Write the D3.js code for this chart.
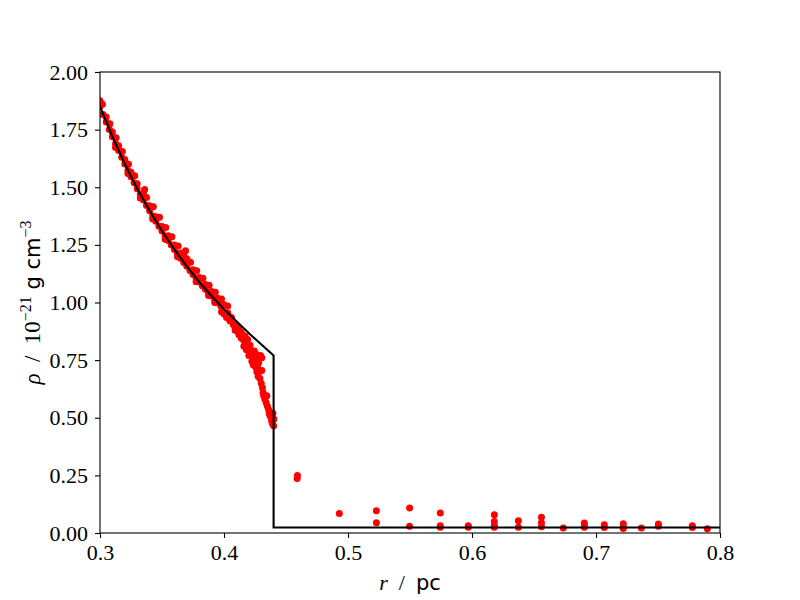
<!DOCTYPE html>
<html>
<head>
<meta charset="utf-8">
<script src="https://cdn.jsdelivr.net/npm/d3@7"></script>
<style>
  body { margin: 0; background: #fff; }
  svg text { fill: #000; }
</style>
</head>
<body>
<div id="chart"></div>
<script>
// analytic profile (black line)
var lineR = [0.300, 0.310, 0.320, 0.330, 0.340, 0.350, 0.360, 0.370, 0.380, 0.390,
             0.400, 0.410, 0.421, 0.440, 0.440, 0.800];
var lineRho = [1.850, 1.719, 1.601, 1.494, 1.398, 1.310, 1.230, 1.157, 1.089, 1.028,
               0.971, 0.919, 0.862, 0.770, 0.024, 0.024];

// simulation particles (red dots)
var simR = [
  // band on the curve
  0.3000, 0.3025, 0.3050, 0.3075, 0.3100, 0.3125, 0.3150, 0.3175, 0.3200, 0.3225,
  0.3250, 0.3275, 0.3300, 0.3325, 0.3350, 0.3375, 0.3400, 0.3425, 0.3450, 0.3475,
  0.3500, 0.3525, 0.3550, 0.3575, 0.3600, 0.3625, 0.3650, 0.3675, 0.3700, 0.3725,
  0.3750, 0.3775, 0.3800, 0.3825, 0.3850, 0.3875, 0.3900, 0.3925, 0.3950, 0.3975,
  // upper edge of the band
  0.3000, 0.3050, 0.3100, 0.3150, 0.3200, 0.3250, 0.3300, 0.3350, 0.3375, 0.3400,
  0.3450, 0.3500, 0.3550, 0.3600, 0.3650, 0.3675, 0.3700, 0.3750, 0.3800, 0.3850,
  0.3900, 0.3950, 0.4000,
  0.3020, 0.3080, 0.3130, 0.3180, 0.3230, 0.3280, 0.3360, 0.3430, 0.3480, 0.3530,
  0.3580, 0.3630, 0.3690, 0.3730, 0.3780, 0.3830, 0.3880, 0.3930, 0.3980, 0.4030,
  // lower edge of the band
  0.3125, 0.3325, 0.3525, 0.3775, 0.3875, 0.3225, 0.3425, 0.3625, 0.3925,
  // spread near the shock
  0.398, 0.400, 0.402, 0.403, 0.405, 0.406, 0.408, 0.409, 0.410, 0.411,
  0.412, 0.413, 0.414, 0.415, 0.416, 0.417, 0.418, 0.419, 0.420, 0.421,
  0.422, 0.423, 0.424, 0.4245, 0.425, 0.426, 0.427, 0.428, 0.4255, 0.4265,
  0.428, 0.429, 0.4275, 0.430, 0.4305, 0.431, 0.4315, 0.432, 0.433, 0.434,
  0.4345, 0.435, 0.436, 0.4365, 0.437, 0.438, 0.4385, 0.439, 0.4395, 0.440,
  0.4402,
  0.409, 0.412, 0.414, 0.416, 0.418, 0.420, 0.4225, 0.4235, 0.426, 0.427,
  0.4295, 0.4305, 0.4045, 0.4075,
  // outer region
  0.4590, 0.4592, 0.4930, 0.5229, 0.5229, 0.5497, 0.5497, 0.5744, 0.5744, 0.5744,
  0.5970, 0.5970, 0.6180, 0.6180, 0.6180, 0.6180, 0.6374, 0.6374, 0.6560, 0.6560,
  0.6560, 0.6736, 0.6906, 0.6906, 0.6906, 0.7067, 0.7067, 0.7220, 0.7220, 0.7220,
  0.7366, 0.7503, 0.7503, 0.7777, 0.7777, 0.7898
];
var simRho = [
  1.850, 1.816, 1.783, 1.751, 1.719, 1.689, 1.659, 1.630, 1.601, 1.573,
  1.546, 1.520, 1.494, 1.469, 1.445, 1.421, 1.398, 1.375, 1.353, 1.331,
  1.310, 1.289, 1.269, 1.249, 1.230, 1.211, 1.192, 1.174, 1.157, 1.139,
  1.122, 1.105, 1.089, 1.073, 1.058, 1.043, 1.028, 1.013, 0.999, 0.985,
  1.875, 1.805, 1.740, 1.680, 1.620, 1.565, 1.515, 1.475, 1.455, 1.420,
  1.372, 1.330, 1.290, 1.250, 1.215, 1.210, 1.190, 1.142, 1.108, 1.078,
  1.048, 1.018, 0.990,
  1.860, 1.775, 1.715, 1.655, 1.600, 1.550, 1.490, 1.415, 1.370, 1.325,
  1.285, 1.245, 1.225, 1.175, 1.138, 1.105, 1.075, 1.045, 1.015, 0.985,
  1.672, 1.453, 1.274, 1.090, 1.030, 1.560, 1.362, 1.198, 1.000,
  0.960, 0.950, 0.935, 0.955, 0.920, 0.935, 0.905, 0.890, 0.900, 0.875,
  0.885, 0.860, 0.870, 0.850, 0.835, 0.855, 0.820, 0.840, 0.800, 0.815,
  0.790, 0.775, 0.760, 0.790, 0.745, 0.775, 0.765, 0.740, 0.720, 0.700,
  0.700, 0.670, 0.680, 0.650, 0.705, 0.630, 0.610, 0.595, 0.580, 0.565,
  0.595, 0.550, 0.535, 0.520, 0.510, 0.500, 0.485, 0.475, 0.520, 0.465,
  0.495,
  0.880, 0.860, 0.845, 0.810, 0.795, 0.770, 0.745, 0.730, 0.735, 0.720,
  0.770, 0.760, 0.925, 0.905,
  0.236, 0.250, 0.085, 0.096, 0.044, 0.109, 0.029, 0.087, 0.031, 0.025,
  0.031, 0.025, 0.079, 0.050, 0.032, 0.025, 0.053, 0.025, 0.068, 0.045,
  0.027, 0.022, 0.043, 0.032, 0.025, 0.036, 0.024, 0.040, 0.026, 0.020,
  0.022, 0.039, 0.029, 0.031, 0.024, 0.018
];

var xTicks = [0.3, 0.4, 0.5, 0.6, 0.7, 0.8];
var yTicks = [0, 0.25, 0.5, 0.75, 1.0, 1.25, 1.5, 1.75, 2.0];

var width = 800, height = 600;
var margin = {top: 72, right: 80, bottom: 67, left: 100};
var serif = "'Liberation Serif', 'DejaVu Serif', serif";
var sans = "'DejaVu Sans', 'Liberation Sans', sans-serif";

var svg = d3.select("#chart").append("svg")
  .attr("width", width)
  .attr("height", height);

var x = d3.scaleLinear().domain([0.3, 0.8]).range([margin.left, width - margin.right]);
var y = d3.scaleLinear().domain([0, 2]).range([height - margin.bottom, margin.top]);

svg.append("clipPath").attr("id", "plotclip")
  .append("rect")
  .attr("x", margin.left).attr("y", margin.top)
  .attr("width", width - margin.left - margin.right)
  .attr("height", height - margin.top - margin.bottom);

var plot = svg.append("g").attr("clip-path", "url(#plotclip)");

// red particles
var pts = d3.range(simR.length).map(function(i) { return [simR[i], simRho[i]]; });
plot.selectAll("circle.sim")
  .data(pts)
  .enter().append("circle")
  .attr("class", "sim")
  .attr("cx", function(d) { return x(d[0]); })
  .attr("cy", function(d) { return y(d[1]); })
  .attr("r", 3.5)
  .attr("fill", "#ff0000");

// analytic line on top
var lineData = d3.range(lineR.length).map(function(i) { return [lineR[i], lineRho[i]]; });
plot.append("path")
  .datum(lineData)
  .attr("fill", "none")
  .attr("stroke", "#000")
  .attr("stroke-width", 2.1)
  .attr("stroke-linejoin", "miter")
  .attr("d", d3.line().x(function(d) { return x(d[0]); }).y(function(d) { return y(d[1]); }));

// axes
var xAxis = svg.append("g")
  .attr("transform", "translate(0," + (height - margin.bottom) + ")")
  .call(d3.axisBottom(x).tickValues(xTicks).tickFormat(d3.format(".1f")).tickSizeOuter(0).tickSize(5).tickPadding(6));
var yAxis = svg.append("g")
  .attr("transform", "translate(" + margin.left + ",0)")
  .call(d3.axisLeft(y).tickValues(yTicks).tickFormat(d3.format(".2f")).tickSizeOuter(0).tickSize(5).tickPadding(7));

[xAxis, yAxis].forEach(function(a) {
  a.select(".domain").remove();
  a.selectAll(".tick line").attr("stroke", "#000").attr("stroke-width", 1.1);
  a.selectAll(".tick text")
    .attr("font-family", serif)
    .attr("font-size", "22px")
    .attr("fill", "#000");
});

// frame
svg.append("rect")
  .attr("x", margin.left).attr("y", margin.top)
  .attr("width", width - margin.left - margin.right)
  .attr("height", height - margin.top - margin.bottom)
  .attr("fill", "none")
  .attr("stroke", "#000")
  .attr("stroke-width", 1.1);

// x label: r / pc
var xl = svg.append("text")
  .attr("x", (margin.left + width - margin.right) / 2)
  .attr("y", 590)
  .attr("text-anchor", "middle")
  .attr("font-size", "22px");
xl.append("tspan").attr("font-family", serif).attr("font-style", "italic").text("r");
xl.append("tspan").attr("font-family", serif).text("\u00a0\u00a0/\u00a0\u00a0");
xl.append("tspan").attr("font-family", sans).attr("font-size", "21px").text("pc");

// y label: rho / 10^-21 g cm^-3
var yl = svg.append("text")
  .attr("transform", "translate(40," + ((margin.top + height - margin.bottom) / 2) + ") rotate(-90)")
  .attr("text-anchor", "middle")
  .attr("font-size", "23px");
yl.append("tspan").attr("font-family", serif).attr("font-style", "italic").text("ρ");
yl.append("tspan").attr("font-family", serif).text("\u00a0\u00a0/\u00a0\u00a010");
yl.append("tspan").attr("font-family", serif).attr("font-size", "16px").attr("dy", -9).text("−21");
yl.append("tspan").attr("font-family", sans).attr("font-size", "21px").attr("dy", 9).text("\u00a0g cm");
yl.append("tspan").attr("font-family", serif).attr("font-size", "16px").attr("dy", -9).text("−3");
</script>
</body>
</html>
